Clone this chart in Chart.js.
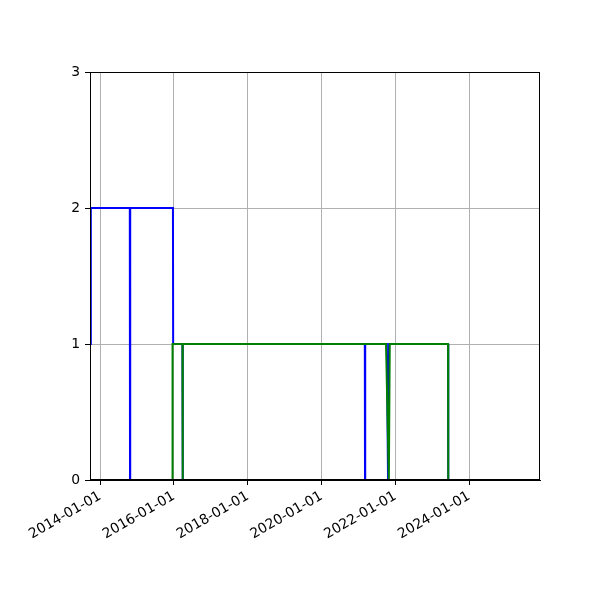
<!DOCTYPE html>
<html>
<head>
<meta charset="utf-8">
<script src="https://cdn.jsdelivr.net/npm/chart.js@4"></script>
<style>
    body { margin: 0; background: #fff; }
    canvas { display: block; }
</style>
</head>
<body>
<canvas id="cvs" width="600" height="600"></canvas>
<script>
// data
const blueDates  = ['2013-09-22', '2013-09-30', '2014-10-21', '2014-10-23', '2014-10-25', '2015-12-22', '2015-12-24', '2016-03-25', '2016-03-27', '2016-03-29', '2021-03-04', '2021-03-06', '2021-03-08', '2021-10-08', '2021-10-20', '2021-10-30', '2023-06-06', '2023-06-08', '2025-12-02'];
const blueValues = [1, 2, 2, 0, 2, 2, 1, 1, 0, 1, 1, 0, 1, 1, 0, 1, 1, 0, 0];

const greenDates  = ['2013-09-22', '2015-12-16', '2015-12-18', '2016-03-25', '2016-03-27', '2016-03-29', '2021-09-30', '2021-10-28', '2021-11-06', '2023-06-06', '2023-06-08', '2025-12-02'];
const greenValues = [0, 0, 1, 1, 0, 1, 1, 0, 1, 1, 0, 0];

const tickYears = [2014, 2016, 2018, 2020, 2022, 2024];
const xMin = '2013-09-22';
const xMax = '2025-12-02';

let toPoints = (dates, values) => {
    return dates.map((d, i) => ({x: Date.parse(d), y: values[i]}));
}

let fmtDate = (v) => new Date(v).toISOString().slice(0, 10);

const font = {family: 'DejaVu Sans', size: 13.9};

// matplotlib style box around the plot area
const frame = {
    id: 'frame',
    afterDraw(chart) {
        const a = chart.chartArea;
        const c = chart.ctx;
        c.save();
        c.strokeStyle = '#000';
        c.lineWidth = 1;
        c.strokeRect(a.left + 0.5, a.top + 0.5, a.right - a.left - 1, a.bottom - a.top - 1);
        c.restore();
    }
};

let ctx = document.getElementById('cvs');
let chart = new Chart(ctx, {
    type: 'line',
    data: {
        datasets: [{
            label: 'green',
            data: toPoints(greenDates, greenValues),
            borderColor: '#008000',
            borderWidth: 2,
            pointRadius: 0,
            tension: 0,
            order: 0
        }, {
            label: 'blue',
            data: toPoints(blueDates, blueValues),
            borderColor: '#0000ff',
            borderWidth: 2,
            pointRadius: 0,
            tension: 0,
            order: 1
        }]
    },
    options: {
        responsive: false,
        animation: false,
        layout: {
            padding: {top: 72, right: 60, left: 0, bottom: 0}
        },
        plugins: {
            legend: {display: false},
            tooltip: {enabled: false}
        },
        scales: {
            x: {
                type: 'linear',
                min: Date.parse(xMin),
                max: Date.parse(xMax),
                afterBuildTicks: (axis) => {
                    axis.ticks = tickYears.map(y => ({value: Date.UTC(y, 0, 1)}));
                },
                afterFit: (axis) => { axis.height = 120; },
                ticks: {
                    autoSkip: false,
                    minRotation: 30,
                    maxRotation: 30,
                    padding: 3,
                    color: '#000',
                    font: font,
                    callback: (v) => fmtDate(v)
                },
                grid: {
                    color: '#b0b0b0',
                    lineWidth: 1,
                    tickColor: '#000',
                    tickLength: 5
                },
                border: {color: '#000', width: 1}
            },
            y: {
                min: 0,
                max: 3,
                afterFit: (axis) => { axis.width = 90; },
                ticks: {
                    stepSize: 1,
                    padding: 5,
                    color: '#000',
                    font: font
                },
                grid: {
                    color: '#b0b0b0',
                    lineWidth: 1,
                    tickColor: '#000',
                    tickLength: 5
                },
                border: {color: '#000', width: 1}
            }
        }
    },
    plugins: [frame]
});
</script>
</body>
</html>
